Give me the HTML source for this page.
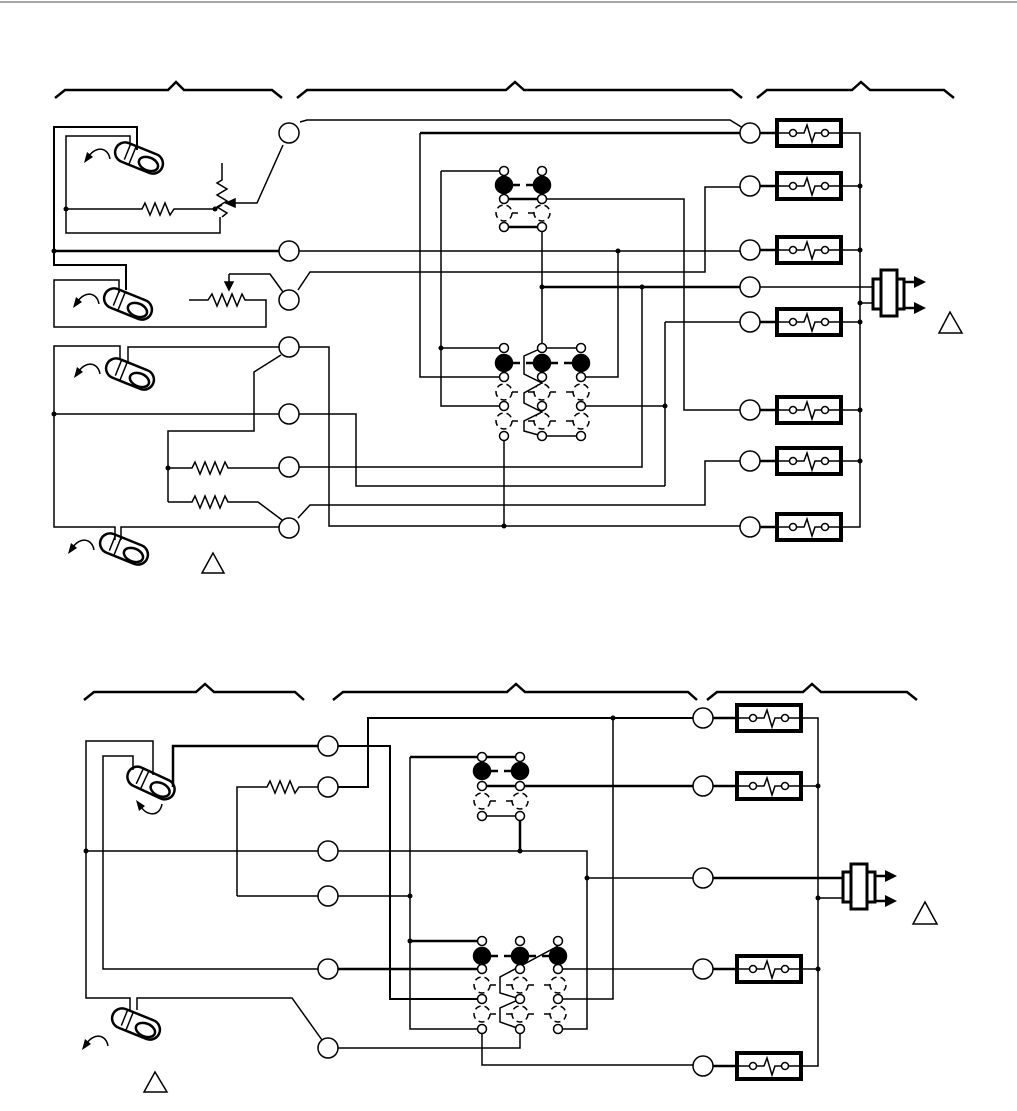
<!DOCTYPE html>
<html><head><meta charset="utf-8"><style>html,body{margin:0;padding:0;background:#fff}svg{display:block}</style></head>
<body>
<svg width="1017" height="1111" viewBox="0 0 1017 1111" xmlns="http://www.w3.org/2000/svg" fill="none" stroke="#000" stroke-width="1.5" stroke-linejoin="miter">
<defs>
<g id="rb">
<rect x="0" y="-13" width="64" height="26" stroke-width="4"/>
<path d="M0,0 H16 M19.5,0 H27 L30,-8 L35,9 L38,0 H44.5 M51.5,0 H64"/>
<circle cx="16" cy="0" r="3.5" fill="#fff"/><circle cx="48" cy="0" r="3.5" fill="#fff"/>
</g>
<g id="pill">
<rect x="-25" y="-10" width="50" height="20" rx="10" stroke-width="2.5"/>
<ellipse cx="11" cy="2" rx="10" ry="6.5" stroke-width="2.5"/>
<path d="M-13,-9 V7 M-7,-9 V9" stroke-width="1.5"/>
</g>
<g id="arr">
<path d="M14,6 C12,-6 0,-7 -7,3" stroke-width="1.5"/>
<path d="M-12,10 L-9,-1 L-3,4 Z" fill="#000" stroke="none"/>
</g>
<circle id="s" r="4.5" fill="#fff" stroke-width="1.5"/>
<circle id="B" r="8.5" fill="#000"/>
<circle id="d" r="8" fill="#fff" stroke-dasharray="6,4" stroke-width="1.5"/>
<circle id="t" r="10" fill="#fff" stroke-width="1.5"/>
<circle id="dot" r="2.5" fill="#000" stroke="none"/>
</defs>

<line x1="0" y1="2" x2="1017" y2="2" stroke="#888" stroke-width="1.5"/>

<g stroke-width="2.5">
<path d="M55,98 L65,90 H168 L176,82 L184,90 H272 L282,98"/>
<path d="M297,98 L307,90 H506 L515,82 L524,90 H732 L742,98"/>
<path d="M757,98 L767,90 H852 L861,82 L870,90 H944 L954,98"/>
</g>

<path d="M137,150 V127 H54 V265 H126 V290" stroke-width="2"/>
<path d="M130,145 V136 H66 V233 H220 V217"/>
<path d="M66,209 H142 L145,203 L150,215 L155,203 L160,215 L165,203 L170,215 L174,209 H215"/>
<path d="M222,163 V180 L217,183 L227,189 L217,195 L227,201 L217,207 L227,213 L222,217 V217"/>
<path d="M215,209 L222,205"/>
<path d="M283,145 L257,203 H232"/>
<path d="M226,203 L235,199 L235,207 Z" fill="#000"/>
<use href="#dot" x="66" y="209"/><use href="#dot" x="215" y="209"/>
<path d="M54,251 H279" stroke-width="2.5"/>
<use href="#dot" x="54" y="251"/>
<path d="M119,293 V280 H54 V327 H266 V300 H245 L242,294 L237,306 L232,294 L227,306 L222,294 L217,306 L212,294 L208,300 H189"/>
<path d="M229,274 H270 L283,292"/>
<path d="M229,274 V284"/><path d="M229,290 L225,282 H233 Z" fill="#000"/>
<path d="M298,290 L310,272 H705 V187 H740"/>
<path d="M120,360 V346 H54 V527 H115 V540"/>
<path d="M128,362 V347 H279"/>
<path d="M54,414 H279"/><use href="#dot" x="54" y="414"/>
<path d="M121,540 V527 H279"/>
<path d="M281,355 L254,372 V431 H168 V502"/>
<path d="M168,468 H192 L195,462 L200,474 L205,462 L210,474 L215,462 L220,474 L225,462 L228,468 H279"/>
<path d="M168,502 H192 L195,496 L200,508 L205,496 L210,508 L215,496 L220,508 L225,496 L228,502 H258 L282,520"/>
<use href="#dot" x="168" y="468"/>
<path d="M299,347 H329 V526 H740"/>
<path d="M299,414 H356 V486 H665"/>
<path d="M298,518 L310,505 H705 V461 H740"/>
<path d="M300,122 L307,120 H730 L743,128"/>
<path d="M289,251 H740"/>

<path d="M420,133 H740" stroke-width="2.5"/>
<path d="M420,133 V377 H504"/>
<path d="M441,171 H504 M441,171 V406 H504 M441,348 H504"/>
<use href="#dot" x="441" y="348"/>
<path d="M504,199 H542" stroke-width="2.5"/>
<path d="M542,199 H684 V410 H740"/>
<path d="M504,227 H542" stroke-width="2.5"/>
<path d="M542,227 V348"/>
<path d="M542,287 H740" stroke-width="2.5"/>
<path d="M642,287 V467 H299"/>
<use href="#dot" x="542" y="287"/><use href="#dot" x="642" y="287"/>
<path d="M618,251 V377 H581"/><use href="#dot" x="618" y="251"/>
<path d="M581,406 H665 M665,322 V486 M665,322 H740"/><use href="#dot" x="665" y="406"/>
<path d="M504,436 V526"/><use href="#dot" x="504" y="526"/>
<path d="M542,436 H581 M542,348 H581"/>
<path d="M542,348 L524,356 V374 L542,383 L524,393 V403 L542,412 L524,421 V431 L542,436"/>
<path d="M512,185 H534 M512,363 H534 M550,363 H573" stroke-width="2.5" stroke-dasharray="8,6"/>
<path d="M512,213 H518 M528,213 H534 M512,392 H518 M528,392 H534 M550,392 H556 M566,392 H573 M512,421 H518 M528,421 H534 M550,421 H556 M566,421 H573"/>
<g>
<use href="#s" x="504" y="171"/><use href="#s" x="542" y="171"/>
<use href="#B" x="504" y="185"/><use href="#B" x="542" y="185"/>
<use href="#s" x="504" y="199"/><use href="#s" x="542" y="199"/>
<use href="#d" x="504" y="213"/><use href="#d" x="542" y="213"/>
<use href="#s" x="504" y="227"/><use href="#s" x="542" y="227"/>
<use href="#s" x="504" y="348"/><use href="#s" x="542" y="348"/><use href="#s" x="581" y="348"/>
<use href="#B" x="504" y="363"/><use href="#B" x="542" y="363"/><use href="#B" x="581" y="363"/>
<use href="#s" x="504" y="377"/><use href="#s" x="542" y="377"/><use href="#s" x="581" y="377"/>
<use href="#d" x="504" y="392"/><use href="#d" x="542" y="392"/><use href="#d" x="581" y="392"/>
<use href="#s" x="504" y="406"/><use href="#s" x="542" y="406"/><use href="#s" x="581" y="406"/>
<use href="#d" x="504" y="421"/><use href="#d" x="542" y="421"/><use href="#d" x="581" y="421"/>
<use href="#s" x="504" y="436"/><use href="#s" x="542" y="436"/><use href="#s" x="581" y="436"/>
</g>

<path d="M760,133 H777 M760,186 H777 M760,250 H777 M760,322 H777 M760,410 H777 M760,461 H777 M760,527 H777" stroke-width="2.5"/>
<path d="M841,133 H860 V527 H841 M841,186 H860 M841,250 H860 M841,322 H860 M841,410 H860 M841,461 H860"/>
<path d="M760,287 H873 M860,303 H873"/>
<use href="#dot" x="860" y="186"/><use href="#dot" x="860" y="250"/><use href="#dot" x="860" y="303"/><use href="#dot" x="860" y="322"/><use href="#dot" x="860" y="410"/><use href="#dot" x="860" y="461"/>
<use href="#rb" x="777" y="133"/><use href="#rb" x="777" y="186"/><use href="#rb" x="777" y="250"/><use href="#rb" x="777" y="322"/><use href="#rb" x="777" y="410"/><use href="#rb" x="777" y="461"/><use href="#rb" x="777" y="527"/>
<rect x="873" y="279" width="31" height="30" stroke-width="3" fill="#fff"/>
<rect x="881" y="270" width="16" height="46" stroke-width="3" fill="#fff"/>
<path d="M904,282 H916 M904,308 H916" stroke-width="2.5"/>
<path d="M926,282 L914,276 V288 Z M926,308 L914,302 V314 Z" fill="#000" stroke="none"/>
<path d="M950,312 L939,333 H962 Z"/>
<path d="M213,553 L202,573 H224 Z"/>

<use href="#t" x="289" y="133"/><use href="#t" x="289" y="251"/><use href="#t" x="289" y="300"/><use href="#t" x="289" y="347"/><use href="#t" x="289" y="414"/><use href="#t" x="289" y="467"/><use href="#t" x="289" y="528"/>
<use href="#t" x="750" y="133"/><use href="#t" x="750" y="186"/><use href="#t" x="750" y="250"/><use href="#t" x="750" y="287"/><use href="#t" x="750" y="322"/><use href="#t" x="750" y="410"/><use href="#t" x="750" y="461"/><use href="#t" x="750" y="527"/>

<use href="#pill" transform="translate(139,158) rotate(22)"/>
<use href="#arr" transform="translate(96,153)"/>
<use href="#pill" transform="translate(128,304) rotate(22)"/>
<use href="#arr" transform="translate(85,298)"/>
<use href="#pill" transform="translate(130,374) rotate(22)"/>
<use href="#arr" transform="translate(86,368)"/>
<use href="#pill" transform="translate(124,549) rotate(22)"/>
<use href="#arr" transform="translate(80,544)"/>

<g stroke-width="2.5">
<path d="M84,700 L94,692 H196 L205,684 L214,692 H295 L304,700"/>
<path d="M333,700 L343,692 H507 L516,684 L525,692 H688 L697,700"/>
<path d="M707,700 L717,692 H803 L812,684 L821,692 H907 L917,700"/>
</g>

<path d="M153,775 V741 H86 V998 H130 V1010"/>
<path d="M133,770 V756 H103 V969 H318"/>
<path d="M173,787 V746 H318" stroke-width="2.5"/>
<path d="M86,851 H318"/><use href="#dot" x="86" y="851"/>
<path d="M237,896 V787 H267 L270,781 L275,793 L280,781 L285,793 L290,781 L295,793 L299,787 H318 M237,896 H318"/>
<path d="M137,1010 V998 H292 L322,1040"/>

<path d="M338,746 H390 V999 H482" stroke-width="2"/>
<path d="M338,787 H368 V718 H703" stroke-width="2"/>
<use href="#dot" x="613" y="718"/>
<path d="M613,718 V999 H558"/>
<path d="M410,757 H520" stroke-width="2.5"/>
<path d="M410,757 V1029 H482"/>
<path d="M338,896 H410"/><use href="#dot" x="410" y="896"/>
<path d="M410,941 H482" stroke-width="2.5"/><use href="#dot" x="410" y="941"/>
<path d="M482,786 H703" stroke-width="2.5"/>
<path d="M482,816 H520"/>
<path d="M520,816 V851" stroke-width="2.5"/>
<path d="M338,851 H587 V1029 H558"/><use href="#dot" x="520" y="851"/>
<path d="M587,878 H703"/><use href="#dot" x="587" y="878"/>
<path d="M338,969 H482" stroke-width="2.5"/>
<path d="M558,969 H703"/>
<path d="M520,1029 V1048 H338"/>
<path d="M482,1029 V1065 H703"/>
<path d="M558,946 L500,977 V993 L520,999 L500,1008 V1022 L520,1029"/>
<path d="M490,771 H512 M490,956 H512 M528,956 H550" stroke-width="2.5" stroke-dasharray="8,6"/>
<path d="M490,801 H496 M506,801 H512 M490,985 H496 M506,985 H512 M528,985 H534 M544,985 H550 M490,1014 H496 M506,1014 H512 M528,1014 H534 M544,1014 H550"/>
<g>
<use href="#s" x="482" y="757"/><use href="#s" x="520" y="757"/>
<use href="#B" x="482" y="771"/><use href="#B" x="520" y="771"/>
<use href="#s" x="482" y="786"/><use href="#s" x="520" y="786"/>
<use href="#d" x="482" y="801"/><use href="#d" x="520" y="801"/>
<use href="#s" x="482" y="816"/><use href="#s" x="520" y="816"/>
<use href="#s" x="482" y="941"/><use href="#s" x="520" y="941"/><use href="#s" x="558" y="941"/>
<use href="#B" x="482" y="956"/><use href="#B" x="520" y="956"/><use href="#B" x="558" y="956"/>
<use href="#s" x="482" y="969"/><use href="#s" x="520" y="969"/><use href="#s" x="558" y="969"/>
<use href="#d" x="482" y="985"/><use href="#d" x="520" y="985"/><use href="#d" x="558" y="985"/>
<use href="#s" x="482" y="999"/><use href="#s" x="520" y="999"/><use href="#s" x="558" y="999"/>
<use href="#d" x="482" y="1014"/><use href="#d" x="520" y="1014"/><use href="#d" x="558" y="1014"/>
<use href="#s" x="482" y="1029"/><use href="#s" x="520" y="1029"/><use href="#s" x="558" y="1029"/>
</g>

<path d="M713,718 H737 M713,786 H737 M713,969 H737 M713,1066 H737" stroke-width="2.5"/>
<path d="M801,718 H818 V1066 H801 M801,786 H818 M801,969 H818 M818,898 H843"/>
<path d="M713,878 H843" stroke-width="2.5"/>
<use href="#dot" x="818" y="786"/><use href="#dot" x="818" y="898"/><use href="#dot" x="818" y="969"/>
<use href="#rb" x="737" y="718"/><use href="#rb" x="737" y="786"/><use href="#rb" x="737" y="969"/><use href="#rb" x="737" y="1066"/>
<rect x="843" y="872" width="32" height="30" stroke-width="3" fill="#fff"/>
<rect x="851" y="864" width="16" height="45" stroke-width="3" fill="#fff"/>
<path d="M875,876 H886 M875,901 H886" stroke-width="2.5"/>
<path d="M897,876 L885,870 V882 Z M897,901 L885,895 V907 Z" fill="#000" stroke="none"/>
<path d="M925,902 L913,924 H937 Z"/>
<path d="M155,1072 L144,1092 H167 Z"/>

<use href="#t" x="328" y="746"/><use href="#t" x="328" y="787"/><use href="#t" x="328" y="851"/><use href="#t" x="328" y="896"/><use href="#t" x="328" y="969"/><use href="#t" x="328" y="1048"/>
<use href="#t" x="703" y="718"/><use href="#t" x="703" y="786"/><use href="#t" x="703" y="878"/><use href="#t" x="703" y="969"/><use href="#t" x="703" y="1066"/>

<use href="#pill" transform="translate(151,783) rotate(25)"/>
<use href="#arr" transform="translate(148,810) scale(1,-1)"/>
<use href="#pill" transform="translate(136,1024) rotate(22)"/>
<use href="#arr" transform="translate(94,1040)"/>
</svg>
</body></html>
